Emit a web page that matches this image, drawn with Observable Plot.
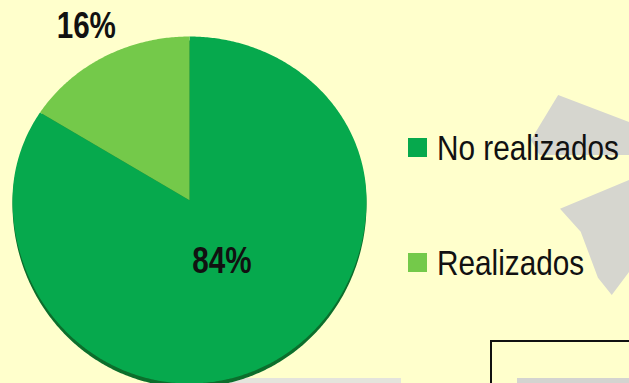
<!DOCTYPE html>
<html><head><meta charset="utf-8">
<script src="https://cdn.jsdelivr.net/npm/d3@7"></script>
<script src="https://cdn.jsdelivr.net/npm/@observablehq/plot@0.6"></script>
<style>
html,body{margin:0;padding:0;background:#ffffcc;overflow:hidden}
#wrap{position:relative;width:629px;height:383px;background:#ffffcc;overflow:hidden}
#wrap svg{position:absolute;left:0;top:0;background:transparent}
.leg{position:absolute;left:408px;display:flex;align-items:center;font-family:"Liberation Sans",Arial,sans-serif;font-size:35px;color:#111;line-height:1;white-space:nowrap}
.sw{width:19px;height:19px;margin-right:10px;flex:none}
.lt{display:inline-block;transform:scaleX(0.85);transform-origin:left center}
#box{position:absolute;left:490px;top:340px;width:200px;height:100px;border:2px solid #111;box-sizing:border-box}
.strip{position:absolute;height:6px;top:378px;background:#e4e4dc}
.wm{position:absolute;background:#d6d6cf}
#err{position:absolute;left:0;top:0;font:12px monospace;color:red;width:600px}
</style></head><body><div id="wrap">
<div class="wm" style="left:520px;top:95px;width:109px;height:60px;clip-path:polygon(10% 75%,35% 0%,100% 45%,100% 100%,18% 100%)"></div>
<div class="wm" style="left:560px;top:180px;width:69px;height:115px;clip-path:polygon(0% 25%,100% 0%,100% 80%,75% 100%,55% 85%,30% 45%)"></div>
<div id="err"></div></div>
<script>
const labels = ["No realizados", "Realizados"];
const values = [84, 16];
const colors = ["#06a94d", "#74c94a"];
const valueLabels = ["84%", "16%"];
try {
const arcs = d3.pie().sort(null).value(d => d)(values);
const pts = [];
arcs.forEach((a, i) => {
  pts.push({label: labels[i], px: 0, py: 0});
  const n = Math.max(2, Math.ceil((a.endAngle - a.startAngle) / 0.01));
  for (let k = 0; k <= n; k++) {
    const t = a.startAngle + (a.endAngle - a.startAngle) * k / n;
    pts.push({label: labels[i], px: Math.sin(t), py: Math.cos(t)});
  }
  pts.push({label: labels[i], px: 0, py: 0});
});
const rim = d3.range(0, 2 * Math.PI + 0.01, 0.01).map(t => ({px: Math.sin(t), py: Math.cos(t)}));
const lab = arcs.map((a, i) => {
  const m = (a.startAngle + a.endAngle) / 2;
  const r = values[i] / d3.sum(values) < 0.25 ? 1.21 : 0.38;
  return {text: valueLabels[i], px: r * Math.sin(m), py: r * Math.cos(m)};
});

const chart = Plot.plot({
  width: 629, height: 383, margin: 0,
  style: {background: "transparent", overflow: "visible"},
  x: {domain: [-1, 1], range: [12, 366], axis: null},
  y: {domain: [-1.12, 1], range: [383, 36], axis: null, transform: v => v < 0 ? v * 1.12 : v},
  color: {domain: labels, range: colors},
  marks: [
    Plot.line(rim, {x: "px", y: "py", fill: "#0c6e2c", stroke: "none", dy: 4}),
    Plot.line(pts, {x: "px", y: "py", z: "label", fill: "label", stroke: "none"}),
    Plot.text(lab, {x: "px", y: "py", text: "text", fontSize: 37, fontWeight: "bold",
      fontFamily: "'Liberation Sans',Arial,sans-serif", fill: "#111"})
  ]
});
d3.select(chart).selectAll("text").each(function() {
  const t = this.getAttribute("transform") || "";
  this.setAttribute("transform", t + " scale(0.8,1)");
});
const wrap = document.getElementById("wrap");
const s1 = document.createElement("div"); s1.className = "strip"; s1.style.left = "229px"; s1.style.width = "172px";
wrap.appendChild(s1);
wrap.appendChild(chart);
const legTops = [148, 263];
labels.forEach((l, i) => {
  const d = document.createElement("div");
  d.className = "leg";
  d.style.top = (legTops[i] - 18) + "px";
  d.innerHTML = `<span class="sw" style="background:${colors[i]}"></span><span class="lt">${l}</span>`;
  wrap.appendChild(d);
});
const box = document.createElement("div"); box.id = "box"; wrap.appendChild(box);
const s2 = document.createElement("div"); s2.className = "strip"; s2.style.left = "517px"; s2.style.width = "120px"; s2.style.background = "#d4d4d0";
wrap.appendChild(s2);
} catch (e) { document.getElementById("err").textContent = e.stack || String(e); }
</script></body></html>
